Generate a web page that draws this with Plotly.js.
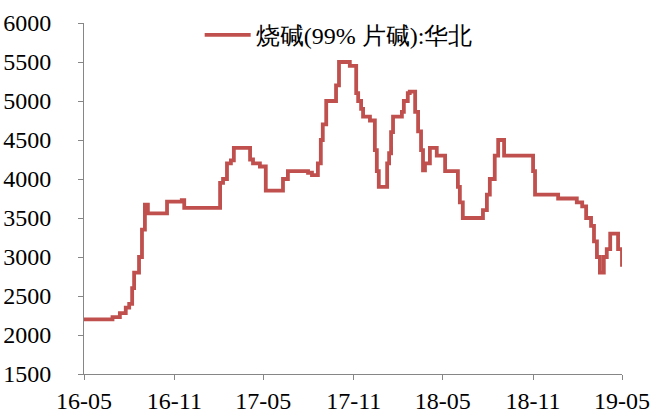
<!DOCTYPE html>
<html>
<head>
<meta charset="utf-8">
<script src="https://cdn.plot.ly/plotly-3.0.1.min.js"></script>
<style>html,body{margin:0;padding:0;background:#fff;}#chart{width:654px;height:414px;}</style>
</head>
<body>
<div id="chart"></div>
<script>
const seriesName = '烧碱(99% 片碱):华北';
const dates = [
  '2016-05-01','2016-06-28','2016-07-13','2016-07-25','2016-08-01','2016-08-07','2016-08-11','2016-08-21','2016-08-27','2016-09-02',
  '2016-09-08','2016-10-17','2016-11-16','2016-11-21','2017-02-02','2017-02-08','2017-02-16','2017-02-24','2017-03-02','2017-04-04',
  '2017-04-10','2017-04-24','2017-05-06','2017-06-10','2017-06-20','2017-07-31','2017-08-08','2017-08-20','2017-08-26','2017-08-30',
  '2017-09-06','2017-09-26','2017-10-02','2017-10-24','2017-11-06','2017-11-10','2017-11-16','2017-11-20','2017-12-04','2017-12-14',
  '2017-12-18','2017-12-22','2018-01-08','2018-01-12','2018-01-16','2018-01-20','2018-02-07','2018-02-11','2018-02-19','2018-02-23',
  '2018-03-06','2018-03-12','2018-03-18','2018-03-22','2018-03-26','2018-04-05','2018-04-19','2018-05-06','2018-06-01','2018-06-05',
  '2018-06-11','2018-07-22','2018-07-30','2018-08-05','2018-08-15','2018-08-22','2018-09-03','2018-11-01','2018-11-05','2018-12-22',
  '2019-01-29','2019-02-09','2019-02-17','2019-02-27','2019-03-05','2019-03-11','2019-03-17','2019-03-25','2019-03-31','2019-04-07',
  '2019-04-23','2019-05-01','2019-05-03'
];
const prices = [
  2200,2230,2280,2350,2400,2600,2800,3000,3350,3670,
  3560,3710,3730,3630,3950,4000,4200,4240,4400,4250,
  4200,4160,3850,4000,4100,4080,4050,4200,4500,4700,
  5000,5200,5500,5450,5100,5000,4900,4800,4750,4370,
  4100,3900,4200,4330,4600,4800,4860,5000,5100,5120,
  4860,4610,4370,4110,4200,4400,4300,4100,3900,3700,
  3500,3600,3800,4000,4300,4500,4300,4100,3800,3750,
  3700,3650,3500,3400,3200,3000,2800,3000,3100,3300,
  3100,2900,2900
];
const tickDates = ['2016-05-01','2016-11-01','2017-05-01','2017-11-01','2018-05-01','2018-11-01','2019-05-01'];
const tickLabels = ['16-05','16-11','17-05','17-11','18-05','18-11','19-05'];

const axisColor = '#868686';
const tickFont = {family: 'Liberation Serif', size: 24, color: '#000'};

Plotly.newPlot('chart', [{
  x: dates, y: prices, type: 'scatter', mode: 'lines', name: seriesName,
  line: {color: '#C0504D', width: 3.8, shape: 'hv'}
}], {
  width: 654, height: 414,
  margin: {l: 84, r: 32, t: 23, b: 40},
  paper_bgcolor: '#fff', plot_bgcolor: '#fff',
  font: {family: 'Liberation Serif'},
  showlegend: true,
  legend: {
    x: 0.215, y: 0.965, xanchor: 'left', yanchor: 'middle',
    orientation: 'h', bgcolor: 'rgba(0,0,0,0)', itemwidth: 46,
    font: {family: 'Liberation Serif', size: 24, color: '#000'}
  },
  xaxis: {
    type: 'date', range: ['2016-05-01','2019-05-01'],
    tickmode: 'array', tickvals: tickDates, ticktext: tickLabels,
    showgrid: false, zeroline: false, showline: true, linecolor: axisColor, linewidth: 1,
    ticks: 'outside', ticklen: 5, tickcolor: axisColor, tickfont: tickFont,
    ticklabelstandoff: 0
  },
  yaxis: {
    range: [1500, 6000], tickmode: 'linear', tick0: 1500, dtick: 500,
    showgrid: false, zeroline: false, showline: true, linecolor: axisColor, linewidth: 1,
    ticks: 'outside', ticklen: 5, tickcolor: axisColor, tickfont: tickFont,
    ticklabelstandoff: 22
  }
}, {displayModeBar: false, staticPlot: true});
</script>
</body>
</html>
